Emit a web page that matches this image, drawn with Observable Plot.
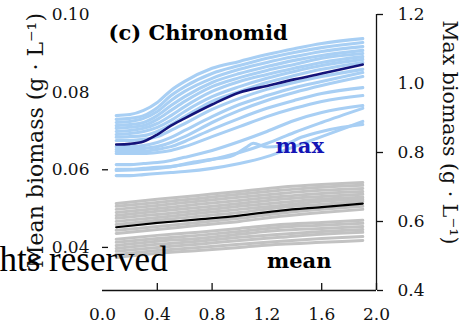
<!DOCTYPE html>
<html><head><meta charset="utf-8">
<script src="https://cdn.jsdelivr.net/npm/d3@7"></script>
<script src="https://cdn.jsdelivr.net/npm/@observablehq/plot@0.6"></script>
<style>body{margin:0;background:#fff}</style>
</head><body><div id="chart"></div>
<script>
// ---- data: max biomass (right axis, g·L-1), light blue simulations + median ----
const xMax = [0.1,0.2,0.3,0.4,0.5,0.6,0.8,1.0,1.2,1.4,1.6,1.9];
const maxB1  = [0.907,0.910,0.922,0.945,0.980,1.006,1.044,1.064,1.084,1.101,1.116,1.130];
const maxB2  = [0.896,0.899,0.907,0.930,0.965,0.991,1.029,1.052,1.073,1.090,1.104,1.119];
const maxB3  = [0.887,0.890,0.899,0.919,0.951,0.977,1.015,1.041,1.061,1.078,1.093,1.107];
const maxB4  = [0.878,0.881,0.887,0.907,0.936,0.962,1.003,1.029,1.049,1.067,1.081,1.096];
const maxB5  = [0.870,0.873,0.878,0.896,0.922,0.948,0.991,1.017,1.038,1.055,1.073,1.087];
const maxB6  = [0.861,0.864,0.870,0.884,0.907,0.933,0.977,1.006,1.026,1.044,1.061,1.078];
const maxB7  = [0.852,0.855,0.861,0.873,0.893,0.919,0.962,0.991,1.015,1.035,1.052,1.070];
const maxB8  = [0.844,0.846,0.849,0.861,0.881,0.904,0.948,0.977,1.003,1.023,1.041,1.061];
const maxB9  = [0.835,0.835,0.838,0.846,0.864,0.884,0.925,0.957,0.983,1.003,1.020,1.041];
const maxB10 = [0.817,0.817,0.820,0.829,0.844,0.864,0.904,0.939,0.965,0.988,1.006,1.032];
const maxB11 = [0.809,0.809,0.812,0.817,0.829,0.846,0.887,0.922,0.951,0.974,0.994,1.020];
const maxB12 = [0.803,0.803,0.803,0.809,0.817,0.832,0.867,0.899,0.928,0.951,0.971,0.988];
const maxB13 = [0.797,0.797,0.797,0.800,0.806,0.817,0.846,0.875,0.904,0.928,0.948,0.965];
const maxL1  = [0.765,0.765,0.768,0.771,0.777,0.786,0.806,0.832,0.861,0.893,0.916,0.936];
const maxL2  = [0.751,0.751,0.754,0.757,0.759,0.765,0.780,0.800,0.826,0.858,0.887,0.928];
const maxL3  = [0.733,0.733,0.736,0.739,0.742,0.745,0.754,0.768,0.788,0.817,0.846,0.890];
const xMaxBump = [0.1,0.3,0.5,0.65,0.8,0.95,1.05,1.1,1.2,1.3,1.45,1.6,1.75,1.9];
const maxBump  = [0.748,0.751,0.759,0.771,0.780,0.791,0.815,0.827,0.816,0.819,0.844,0.861,0.873,0.881];
const maxMedian = [0.823,0.825,0.832,0.852,0.878,0.899,0.939,0.974,0.993,1.012,1.029,1.055];

// ---- data: mean biomass (left axis, g·L-1), grey simulations + median ----
const xMean = [0.1,0.4,0.7,1.0,1.3,1.6,1.9];
const meanG1  = [0.0513,0.0524,0.0534,0.0544,0.0555,0.0562,0.0567];
const meanG2  = [0.0506,0.0516,0.0526,0.0537,0.0547,0.0555,0.0560];
const meanG3  = [0.0498,0.0508,0.0519,0.0529,0.0539,0.0547,0.0552];
const meanG4  = [0.0490,0.0500,0.0511,0.0521,0.0531,0.0539,0.0544];
const meanG5  = [0.0482,0.0493,0.0503,0.0513,0.0524,0.0531,0.0537];
const meanG6  = [0.0475,0.0485,0.0495,0.0506,0.0516,0.0524,0.0529];
const meanG7  = [0.0467,0.0477,0.0488,0.0498,0.0508,0.0519,0.0524];
const meanG8  = [0.0459,0.0470,0.0480,0.0490,0.0503,0.0511,0.0519];
const meanG9  = [0.0444,0.0454,0.0464,0.0475,0.0488,0.0498,0.0506];
const meanG10 = [0.0436,0.0446,0.0457,0.0467,0.0480,0.0490,0.0498];
const meanG11 = [0.0421,0.0431,0.0439,0.0449,0.0459,0.0464,0.0470];
const meanG12 = [0.0413,0.0423,0.0431,0.0441,0.0452,0.0457,0.0462];
const meanG13 = [0.0405,0.0416,0.0423,0.0434,0.0444,0.0449,0.0454];
const meanG14 = [0.0397,0.0408,0.0416,0.0426,0.0434,0.0441,0.0446];
const meanG15 = [0.0390,0.0400,0.0408,0.0418,0.0426,0.0434,0.0439];
const meanG16 = [0.0382,0.0392,0.0400,0.0408,0.0416,0.0423,0.0428];
const meanG17 = [0.0374,0.0385,0.0392,0.0400,0.0408,0.0413,0.0418];
const meanMedian = [0.0452,0.0463,0.0472,0.0482,0.0495,0.0504,0.0513];

// ---- axes ----
const xTicks = [0.0,0.4,0.8,1.2,1.6,2.0];
const xTickMarks = [0.4,0.8,1.6,2.0];
const meanDomain = [0.0289, 0.10];
const meanTicks = [0.04,0.06,0.08,0.10];
const meanTickMarks = [0.04,0.06];
const maxDomain = [0.4, 1.2];
const maxTicks = [0.4,0.6,0.8,1.0,1.2];
const maxTickMarks = [0.4,0.6,0.8,1.2];

// map right-axis values onto the left-axis scale
const toPlot = m => meanDomain[0] + (m - maxDomain[0]) / (maxDomain[1] - maxDomain[0]) * (meanDomain[1] - meanDomain[0]);
const fromPlot = v => maxDomain[0] + (v - meanDomain[0]) / (meanDomain[1] - meanDomain[0]) * (maxDomain[1] - maxDomain[0]);

const rows = (xs, ys, id, conv = v => v) => xs.map((x, i) => ({x, y: conv(ys[i]), id}));
const greySeries = [meanG1,meanG2,meanG3,meanG4,meanG5,meanG6,meanG7,meanG8,meanG9,meanG10,meanG11,meanG12,meanG13,meanG14,meanG15,meanG16,meanG17];
const blueSeries = [maxB1,maxB2,maxB3,maxB4,maxB5,maxB6,maxB7,maxB8,maxB9,maxB10,maxB11,maxB12,maxB13,maxL1,maxL2,maxL3];

const greyRows = greySeries.flatMap((s, i) => rows(xMean, s, "g" + i));
const blueRows = blueSeries.flatMap((s, i) => rows(xMax, s, "b" + i, toPlot))
  .concat(rows(xMaxBump, maxBump, "bump", toPlot));
const meanMedRows = rows(xMean, meanMedian, "meanMed");
const maxMedRows = rows(xMax, maxMedian, "maxMed", toPlot);

const ink = "#111";
const chart = Plot.plot({
  width: 473, height: 325,
  marginLeft: 102, marginRight: 97, marginTop: 14, marginBottom: 35,
  style: {fontFamily: "DejaVu Serif", fontSize: "17px", color: ink, background: "white"},
  x: {domain: [0, 2], axis: null},
  y: {domain: meanDomain, axis: null},
  marks: [
    Plot.line(greyRows, {x: "x", y: "y", z: "id", stroke: "#c2c2c2", strokeWidth: 3, curve: "monotone-x"}),
    Plot.line(meanMedRows, {x: "x", y: "y", stroke: "#000", strokeWidth: 2.2, curve: "monotone-x"}),
    Plot.line(blueRows, {x: "x", y: "y", z: "id", stroke: "#a8cff4", strokeWidth: 3.1, curve: "monotone-x"}),
    Plot.line(maxMedRows, {x: "x", y: "y", stroke: "#14147a", strokeWidth: 2.6, curve: "monotone-x"}),
    Plot.ruleX([2], {stroke: ink, strokeWidth: 1.3}),
    Plot.ruleY([meanDomain[0]], {stroke: ink, strokeWidth: 1.3}),
    Plot.axisX({ticks: xTicks, tickSize: 0, tickPadding: 17, tickFormat: d3.format(".1f"), label: null}),
    Plot.axisX({ticks: xTickMarks, tickSize: -7, tickFormat: () => "", label: null, strokeWidth: 1.3}),
    Plot.axisY({ticks: meanTicks, anchor: "left", tickSize: 0, tickPadding: 13, tickFormat: d3.format(".2f"), label: null}),
    Plot.axisY({ticks: meanTickMarks, anchor: "left", tickSize: -6, tickFormat: () => "", label: null, strokeWidth: 1.3}),
    Plot.axisY({ticks: maxTicks.map(toPlot), anchor: "right", tickSize: 0, tickPadding: 21, tickFormat: d => d3.format(".1f")(fromPlot(d)), label: null}),
    Plot.axisY({ticks: maxTickMarks.map(toPlot), anchor: "right", tickSize: 6, tickFormat: () => "", label: null, strokeWidth: 1.3}),
    Plot.text(["(c) Chironomid"], {text: d => d, frameAnchor: "top-left", dx: 6, dy: 25, textAnchor: "start", lineAnchor: "bottom", fontWeight: "bold", fontSize: 21, fill: "#000"}),
    Plot.text(["max"], {text: d => d, x: 1.44, y: toPlot(0.80), textAnchor: "middle", lineAnchor: "bottom", fontWeight: "bold", fontSize: 21, fill: "#1414b4"}),
    Plot.text(["mean"], {text: d => d, x: 1.436, y: 0.0346, textAnchor: "middle", lineAnchor: "bottom", fontWeight: "bold", fontSize: 21, fill: "#000"}),
    Plot.text(["Mean biomass (g · L⁻¹)"], {text: d => d, frameAnchor: "left", dx: -67, dy: -12, rotate: -90, textAnchor: "middle", lineAnchor: "middle", fontSize: 22, fill: ink}),
    Plot.text(["Max biomass (g · L⁻¹)"], {text: d => d, frameAnchor: "right", dx: 73, dy: -20, rotate: 90, textAnchor: "middle", lineAnchor: "middle", fontSize: 20.5, fill: ink}),
    Plot.text(["hts reserved"], {text: d => d, frameAnchor: "bottom-left", dx: -103, dy: -20, textAnchor: "start", lineAnchor: "bottom", fontFamily: "Liberation Serif", fontSize: 35, fill: "#000"})
  ]
});
document.getElementById("chart").appendChild(chart);
</script>
</body></html>
